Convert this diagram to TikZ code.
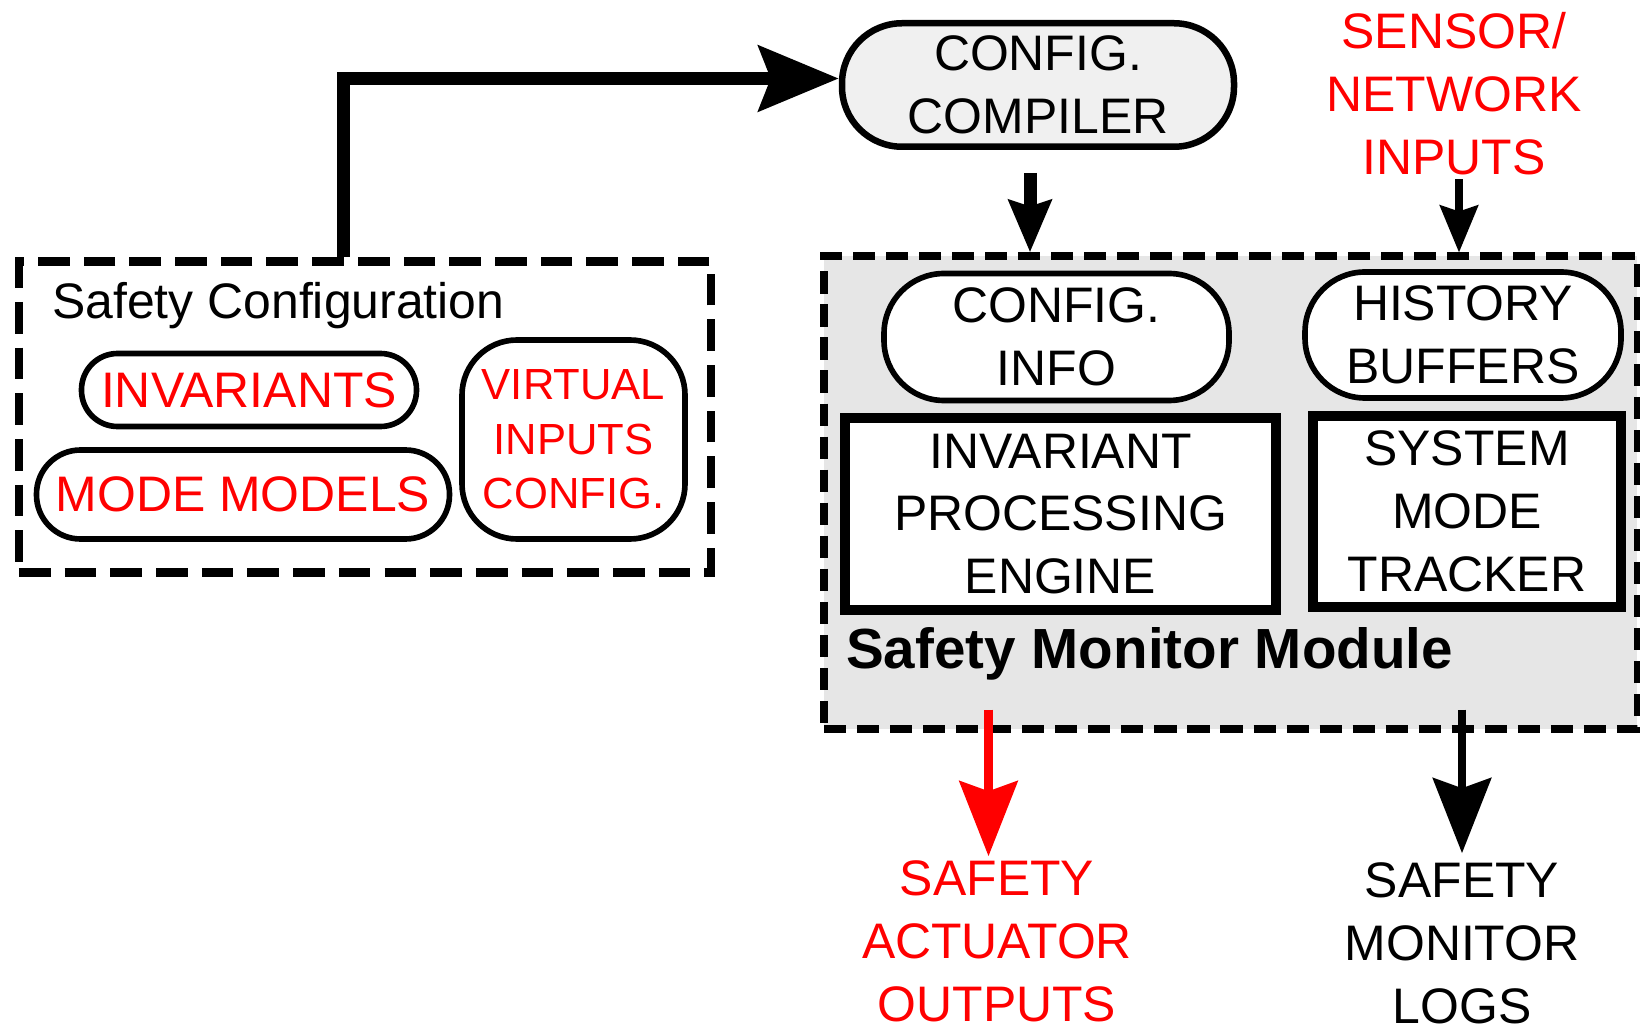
\documentclass[tikz,border=0pt]{standalone}
\usepackage{fontspec}
\setmainfont{Liberation Sans}
\usepackage{xcolor}
\usepackage{tikz}
\usetikzlibrary{arrows.meta,positioning}
\definecolor{figRed}{HTML}{FF0000}
\definecolor{figFill}{HTML}{E6E6E6}
\definecolor{figLight}{HTML}{F0F0F0}

\begin{document}
\begin{tikzpicture}[
  every node/.style={font=\fontsize{14.2}{17.9}\selectfont, align=center, inner sep=1pt},
  pill/.style={draw, line width=1.6pt, fill=white, inner sep=0pt},
  engine/.style={draw, line width=2.6pt, fill=white, inner sep=0pt},
  cfgbox/.style={draw, line width=2.5pt, dash pattern=on 9pt off 4pt, inner sep=0pt},
  modbox/.style={draw, line width=2pt, dash pattern=on 6.3pt off 3.1pt, fill=figFill, inner sep=0pt},
  redlabel/.style={text=figRed},
  bigarrow/.style={line width=3.7pt, -{Stealth[length=0.8cm, width=0.65cm, inset=0.12cm]}},
  fatarrow/.style={line width=3.7pt, -{Stealth[length=0.52cm, width=0.42cm, inset=0.06cm]}},
  thinarrow/.style={line width=2.1pt, -{Stealth[length=0.47cm, width=0.38cm, inset=0.06cm]}},
  outarrow/.style={line width=2.4pt, -{Stealth[length=0.75cm, width=0.58cm, inset=0.1cm]}},
]
\useasboundingbox (0,0) rectangle (16.4,-10.31);

% === Safety configuration ===
\node[cfgbox, minimum width=6.92cm, minimum height=3.115cm] (scbox) at (3.65, -4.17) {};
\node[anchor=west] (sctitle) at (0.48, -3.055) {Safety Configuration};
\node[pill, redlabel, rounded corners=0.36cm, minimum width=3.35cm, minimum height=0.73cm]
  (invariants) at (2.49, -3.90) {INVARIANTS};
\node[pill, redlabel, rounded corners=0.44cm, minimum width=4.13cm, minimum height=0.89cm]
  (modemodels) at (2.43, -4.945) {MODE MODELS};
\node[pill, redlabel, rounded corners=0.55cm, minimum width=2.23cm, minimum height=1.99cm,
  font=\fontsize{12.4}{15.5}\selectfont]
  (virtual) at (5.735, -4.395) {VIRTUAL\\INPUTS\\CONFIG.};

% === Compiler and inputs ===
\node[draw, line width=1.85pt, fill=figLight, rounded corners=0.6cm, inner sep=0pt,
  minimum width=3.92cm, minimum height=1.235cm] (compiler) at (10.38, -0.85) {CONFIG.\\COMPILER};
\node[redlabel] (sensor) at (14.54, -0.94) {SENSOR/\\NETWORK\\INPUTS};

% === Safety monitor module ===
\node[modbox, minimum width=8.13cm, minimum height=4.73cm] (smm) at (12.305, -4.925) {};
\node[pill, rounded corners=0.6cm, minimum width=3.45cm, minimum height=1.27cm]
  (cinfo) at (10.565, -3.37) {CONFIG.\\INFO};
\node[pill, rounded corners=0.6cm, minimum width=3.16cm, minimum height=1.26cm]
  (history) at (14.63, -3.35) {HISTORY\\BUFFERS};
\node[engine, minimum width=4.31cm, minimum height=1.92cm]
  (engine) at (10.605, -5.14) {INVARIANT\\PROCESSING\\ENGINE};
\node[engine, minimum width=3.08cm, minimum height=1.91cm]
  (tracker) at (14.67, -5.115) {SYSTEM\\MODE\\TRACKER};
\node[anchor=west, font=\fontsize{16.1}{19}\selectfont\bfseries] (smmtitle) at (8.42, -6.54)
  {Safety Monitor Module};

% === Outputs ===
\node[redlabel] (outputs) at (9.97, -9.41) {SAFETY\\ACTUATOR\\OUTPUTS};
\node (logs) at (14.62, -9.43) {SAFETY\\MONITOR\\LOGS};

% === Arrows ===
\draw[bigarrow] ([xshift=3.29cm]scbox.north west) |- ([yshift=0.065cm]compiler.west);
\draw[fatarrow, shorten <=0.23cm] ([xshift=-0.08cm]compiler.south)
  -- ([xshift=-0.08cm]compiler.south |- smm.north);
\draw[thinarrow] ([xshift=0.05cm]sensor.south) -- ([xshift=0.05cm]sensor.south |- smm.north);
\draw[outarrow, figRed] ([xshift=-0.085cm, yshift=0.23cm]smm.south -| outputs.north)
  -- ([xshift=-0.085cm]outputs.north);
\draw[outarrow] ([yshift=0.23cm]smm.south -| logs.north) -- ([yshift=0.05cm]logs.north);

\end{tikzpicture}
\end{document}
